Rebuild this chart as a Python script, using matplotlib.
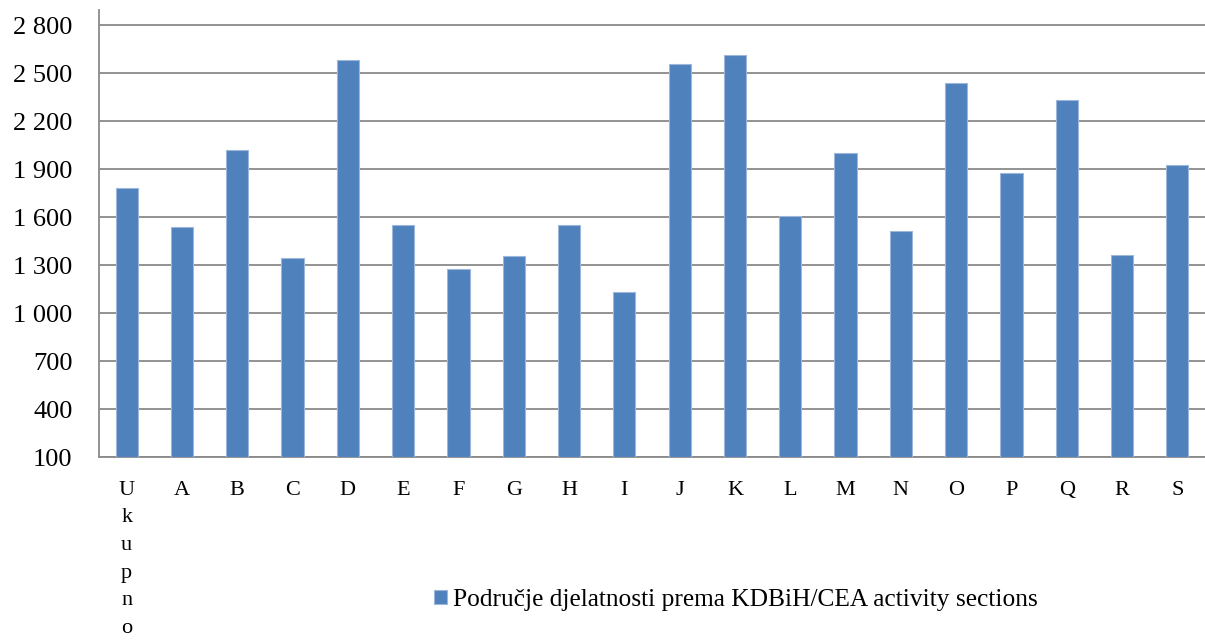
import matplotlib
matplotlib.use("Agg")
import matplotlib.pyplot as plt
import matplotlib.ticker as ticker

plt.rcParams['font.family'] = ['Liberation Serif', 'DejaVu Serif']

# data
categories = ['Ukupno', 'A', 'B', 'C', 'D', 'E', 'F', 'G', 'H', 'I',
              'J', 'K', 'L', 'M', 'N', 'O', 'P', 'Q', 'R', 'S']
values = [1779, 1535, 2019, 1344, 2581, 1548, 1275, 1356, 1548, 1131,
          2556, 2612, 1606, 2002, 1510, 2435, 1875, 2331, 1362, 1923]
yticks = [100, 400, 700, 1000, 1300, 1600, 1900, 2200, 2500, 2800]
series_name = 'Područje djelatnosti prema KDBiH/CEA activity sections'

fig = plt.figure(figsize=(12.05, 6.43), dpi=100)
ax = fig.add_axes([99 / 1205, 1 - 457 / 643, 1 - 99 / 1205, 447 / 643])

x = list(range(len(categories)))
ax.bar(x, [v - 100 for v in values], bottom=100, width=0.4,
       color='#4F81BD', edgecolor='#9DB7DA', linewidth=0.8,
       label=series_name, zorder=3)

ax.set_xlim(-0.5, len(categories) - 0.5)
ax.set_ylim(100, 2894)
ax.set_yticks(yticks)
ax.yaxis.set_major_formatter(
    ticker.FuncFormatter(lambda v, p: f"{int(v):,}".replace(",", " ")))
ax.grid(axis='y', color='#8A8A8A', linewidth=1.3, zorder=0)

# category labels, "Ukupno" stacked letter by letter like the original
labels = ['\n'.join(c) if len(c) > 1 else c for c in categories]
ax.set_xticks(x)
ax.set_xticklabels(labels, fontsize=16, linespacing=1.62, va='top')
ax.tick_params(axis='x', length=0, pad=17)
ax.tick_params(axis='y', length=0, pad=19, labelsize=19)

for side in ['top', 'right']:
    ax.spines[side].set_visible(False)
for side in ['left', 'bottom']:
    ax.spines[side].set_color('#8A8A8A')
    ax.spines[side].set_linewidth(1.3)

fig.legend(loc='center', bbox_to_anchor=(736 / 1205, 1 - 600 / 643),
           frameon=False, fontsize=18.3, handlelength=0.5, handleheight=0.5,
           handletextpad=0.25)

plt.savefig("out.png", dpi=100)
